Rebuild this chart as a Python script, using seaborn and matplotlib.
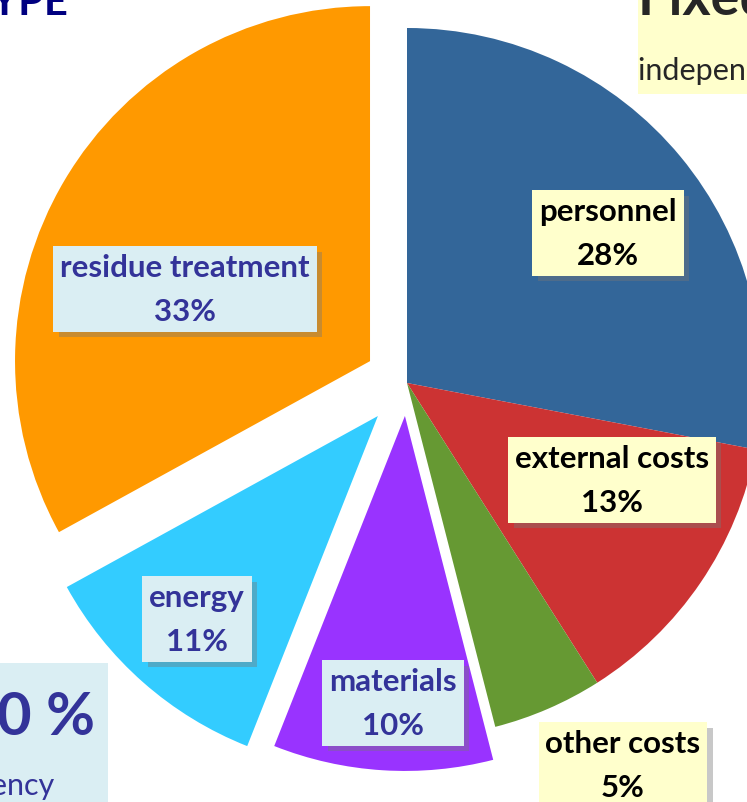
import numpy as np
import matplotlib
matplotlib.use('Agg')
import matplotlib.pyplot as plt
import matplotlib.patheffects as pe
import seaborn as sns

# cost shares, clockwise from 12 o'clock
labels = ['personnel', 'external costs', 'other costs', 'materials', 'energy', 'residue treatment']
shares = [28, 13, 5, 10, 11, 33]
explode = [0, 0, 0, 0.093, 0.124, 0.121]
colors = ['#336699', '#CC3333', '#669933', '#9933FF', '#33CCFF', '#FF9900']
fixed = ['personnel', 'external costs', 'other costs']

W, H = 747, 803
sns.set_theme(style='white')
plt.rcParams['font.family'] = ['Lato', 'DejaVu Sans']

fig = plt.figure(figsize=(W / 100, H / 100), dpi=100)
ax = fig.add_axes([0, 0, 1, 1])

# pie centre (407, 384) px, radius 355 px
cx, cy, R = 407, 384, 355
ax.pie(shares, colors=colors, explode=explode, startangle=90, counterclock=False,
       radius=1, center=(0, 0), wedgeprops=dict(linewidth=0))
ax.set_xlim(-cx / R, (W - cx) / R)
ax.set_ylim(-(H - cy) / R, cy / R)
ax.set_aspect('auto')
ax.axis('off')


def fx(x):
    return x / W


def fy(y):
    return 1 - y / H


# label box centres in pixels
label_pos = {
    'personnel': (608, 234),
    'external costs': (612, 481),
    'other costs': (623, 766),
    'materials': (393, 704),
    'energy': (197, 620),
    'residue treatment': (185, 290),
}

for name, val in zip(labels, shares):
    x, y = label_pos[name]
    if name in fixed:
        fc, tc = '#FFFFCC', 'black'
    else:
        fc, tc = '#DAEEF3', '#333399'
    t = ax.text(fx(x), fy(y), f'{name}\n{val}%', transform=ax.transAxes,
                ha='center', va='center', fontsize=22.5, fontweight='bold',
                color=tc, linespacing=1.7,
                bbox=dict(boxstyle='square,pad=0.22', fc=fc, ec='none'))
    t.get_bbox_patch().set_path_effects([
        pe.SimplePatchShadow(offset=(4, -4), shadow_rgbFace='#777777', alpha=0.4),
        pe.Normal()])

# clipped slide text around the chart
ax.text(fx(68), fy(15), 'TYPE', transform=ax.transAxes, ha='right', va='baseline',
        fontsize=30, fontweight='bold', color='#000080')

ax.add_patch(plt.Rectangle((fx(638), fy(95)), 1, 95 / H, transform=ax.transAxes,
                           fc='#FFFFCC', ec='none', clip_on=False))
ax.text(fx(638), fy(15), 'Fixed costs', transform=ax.transAxes, ha='left',
        va='baseline', fontsize=39, fontweight='bold', color='#262626')
ax.text(fx(638), fy(80), 'independent of', transform=ax.transAxes, ha='left',
        va='baseline', fontsize=22, color='#262626')

ax.add_patch(plt.Rectangle((0, 0), fx(108), (H - 664) / H, transform=ax.transAxes,
                           fc='#DAEEF3', ec='none'))
ax.text(fx(95), fy(735), '0 %', transform=ax.transAxes, ha='right', va='baseline',
        fontsize=43, fontweight='bold', color='#333399')
ax.text(fx(55), fy(795), 'efficiency', transform=ax.transAxes, ha='right',
        va='baseline', fontsize=22, color='#333399')

fig.savefig('out.png', dpi=100)
